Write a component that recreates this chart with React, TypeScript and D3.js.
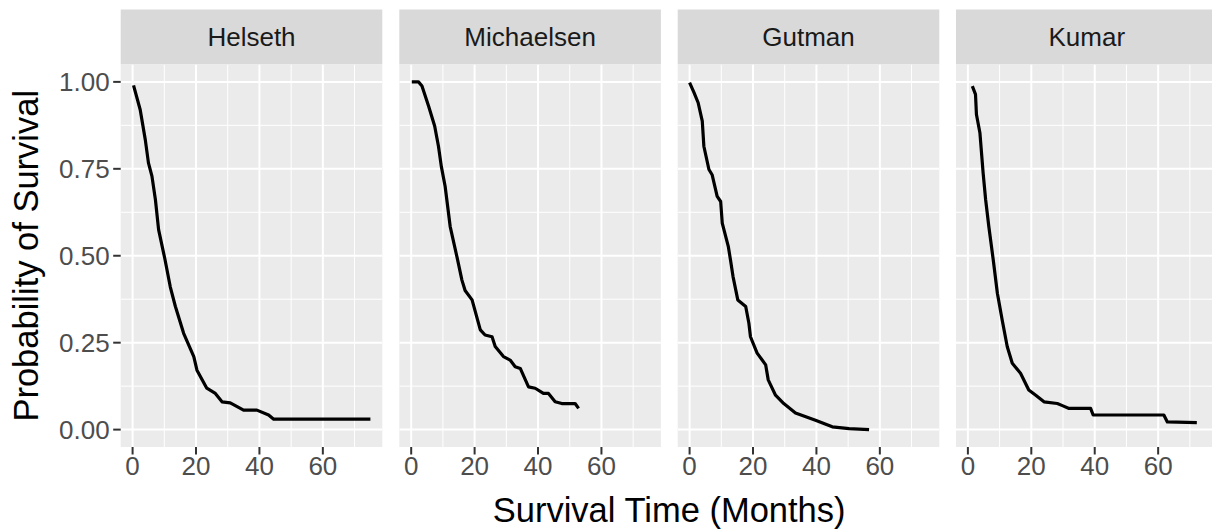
import React from "react";
import * as d3 from "d3";

// Kaplan–Meier style survival estimates per study (months, probability)
const studies = ["Helseth", "Michaelsen", "Gutman", "Kumar"];

const helsethTime = [0.3, 2.4, 4.0, 5.0, 6.1, 7.2, 8.2, 10.2, 11.9, 13.5, 16.1, 19.3, 20.3, 23.4, 26.1, 28.2, 30.8, 35, 39.2, 42.9, 44.5, 75];
const helsethSurv = [0.99, 0.92, 0.834, 0.767, 0.729, 0.661, 0.575, 0.49, 0.41, 0.354, 0.277, 0.21, 0.171, 0.119, 0.104, 0.08, 0.077, 0.056, 0.056, 0.042, 0.03, 0.03];

const michaelsenTime = [0.2, 2.3, 3.4, 5.5, 7.4, 8.6, 9.5, 10.7, 12.3, 14.4, 16, 17, 19.2, 21.8, 23.3, 25.5, 26.5, 29.1, 31.2, 32.8, 34.4, 37, 39.1, 41.7, 43.3, 45.4, 47.5, 51.7, 52.8];
const michaelsenSurv = [1.0, 1.0, 0.988, 0.93, 0.873, 0.815, 0.757, 0.7, 0.584, 0.498, 0.43, 0.4, 0.373, 0.287, 0.272, 0.267, 0.239, 0.21, 0.2, 0.181, 0.176, 0.123, 0.119, 0.104, 0.104, 0.08, 0.075, 0.075, 0.061];

const gutmanTime = [0, 1.4, 2.7, 4, 4.5, 6.1, 7.1, 8.7, 9.8, 10.3, 12.2, 12.9, 13.7, 15.2, 17.7, 18.7, 19.2, 21.3, 24, 24.8, 27.1, 29.7, 33.4, 39.7, 45, 50.3, 56.6];
const gutmanSurv = [0.998, 0.969, 0.94, 0.887, 0.815, 0.748, 0.733, 0.671, 0.656, 0.594, 0.527, 0.488, 0.44, 0.373, 0.354, 0.306, 0.267, 0.22, 0.186, 0.143, 0.099, 0.075, 0.048, 0.027, 0.008, 0.003, 0.0];

const kumarTime = [1.4, 2.4, 2.7, 3.8, 4.8, 5.6, 6.6, 8, 9.3, 10.8, 12.4, 14, 16.6, 19.2, 21.4, 24, 28.2, 29.8, 31.9, 38.7, 39.5, 61.8, 62.9, 72.2];
const kumarSurv = [0.988, 0.964, 0.906, 0.853, 0.738, 0.661, 0.584, 0.488, 0.392, 0.316, 0.239, 0.191, 0.162, 0.114, 0.099, 0.08, 0.075, 0.069, 0.061, 0.061, 0.042, 0.042, 0.022, 0.02];

const seriesTimes = [helsethTime, michaelsenTime, gutmanTime, kumarTime];
const seriesSurv = [helsethSurv, michaelsenSurv, gutmanSurv, kumarSurv];

const xTicks = [0, 20, 40, 60];
const xMinor = [10, 30, 50, 70];
const yTicks = [0, 0.25, 0.5, 0.75, 1.0];
const yMinor = [0.125, 0.375, 0.625, 0.875];

const W = 1212;
const H = 531;
const FONT = "'Liberation Sans', Arial, Helvetica, sans-serif";

const panelLefts = [120.7, 399.3, 677.7, 956];
const panelW = 261.6;
const stripTop = 9.5;
const panelTop = 64.5;
const panelBottom = 447;

const xDomain = [0, 75];
const xPad = (xDomain[1] - xDomain[0]) * 0.05;

const y = d3
  .scaleLinear()
  .domain([-0.05, 1.05])
  .range([panelBottom, panelTop]);

function Panel({ idx }: { idx: number }) {
  const left = panelLefts[idx];
  const x = d3
    .scaleLinear()
    .domain([xDomain[0] - xPad, xDomain[1] + xPad])
    .range([left, left + panelW]);
  const pts: [number, number][] = seriesTimes[idx].map((t, i) => [t, seriesSurv[idx][i]]);
  const line = d3
    .line<[number, number]>()
    .x((d) => x(d[0]))
    .y((d) => y(d[1]));
  const clipId = `clip-${idx}`;
  return (
    <g>
      <defs>
        <clipPath id={clipId}>
          <rect x={left} y={panelTop} width={panelW} height={panelBottom - panelTop} />
        </clipPath>
      </defs>
      {/* strip */}
      <rect x={left} y={stripTop} width={panelW} height={panelTop - stripTop} fill="#D9D9D9" />
      <text
        x={left + panelW / 2}
        y={(stripTop + panelTop) / 2}
        textAnchor="middle"
        dominantBaseline="central"
        fontSize={26}
        fill="#1A1A1A"
        fontFamily={FONT}
      >
        {studies[idx]}
      </text>
      {/* panel background */}
      <rect x={left} y={panelTop} width={panelW} height={panelBottom - panelTop} fill="#EBEBEB" />
      <g clipPath={`url(#${clipId})`}>
        {yMinor.map((v) => (
          <line key={`ym${v}`} x1={left} x2={left + panelW} y1={y(v)} y2={y(v)} stroke="#FFFFFF" strokeWidth={1} />
        ))}
        {xMinor.map((v) => (
          <line key={`xm${v}`} x1={x(v)} x2={x(v)} y1={panelTop} y2={panelBottom} stroke="#FFFFFF" strokeWidth={1} />
        ))}
        {yTicks.map((v) => (
          <line key={`yM${v}`} x1={left} x2={left + panelW} y1={y(v)} y2={y(v)} stroke="#FFFFFF" strokeWidth={2} />
        ))}
        {xTicks.map((v) => (
          <line key={`xM${v}`} x1={x(v)} x2={x(v)} y1={panelTop} y2={panelBottom} stroke="#FFFFFF" strokeWidth={2} />
        ))}
        <path
          d={line(pts) || ""}
          fill="none"
          stroke="#000000"
          strokeWidth={3.2}
          strokeLinejoin="round"
          strokeLinecap="butt"
        />
      </g>
      {/* x axis ticks and labels */}
      {xTicks.map((v) => (
        <g key={`xt${v}`}>
          <line x1={x(v)} x2={x(v)} y1={panelBottom} y2={panelBottom + 7.5} stroke="#333333" strokeWidth={2} />
          <text
            x={x(v)}
            y={panelBottom + 9}
            textAnchor="middle"
            dominantBaseline="hanging"
            fontSize={26}
            fill="#4D4D4D"
            fontFamily={FONT}
          >
            {v}
          </text>
        </g>
      ))}
    </g>
  );
}

export default function App() {
  const firstLeft = panelLefts[0];
  const panelsCenter = (panelLefts[0] + panelLefts[3] + panelW) / 2;
  return (
    <svg
      width={W}
      height={H}
      viewBox={`0 0 ${W} ${H}`}
      style={{ position: "fixed", left: 0, top: 0, background: "#FFFFFF" }}
    >
      <rect x={0} y={0} width={W} height={H} fill="#FFFFFF" />
      {studies.map((_, i) => (
        <Panel key={i} idx={i} />
      ))}
      {/* y axis on the first panel */}
      {yTicks.map((v) => (
        <g key={`yt${v}`}>
          <line x1={firstLeft - 7.5} x2={firstLeft} y1={y(v)} y2={y(v)} stroke="#333333" strokeWidth={2} />
          <text
            x={firstLeft - 11}
            y={y(v)}
            textAnchor="end"
            dominantBaseline="central"
            fontSize={26}
            fill="#4D4D4D"
            fontFamily={FONT}
          >
            {d3.format(".2f")(v)}
          </text>
        </g>
      ))}
      <text
        transform={`translate(26, ${(panelTop + panelBottom) / 2}) rotate(-90)`}
        textAnchor="middle"
        dominantBaseline="central"
        fontSize={34.5}
        fill="#000000"
        fontFamily={FONT}
      >
        Probability of Survival
      </text>
      <text
        x={panelsCenter}
        y={H - 9}
        textAnchor="middle"
        fontSize={34.5}
        fill="#000000"
        fontFamily={FONT}
      >
        Survival Time (Months)
      </text>
    </svg>
  );
}
